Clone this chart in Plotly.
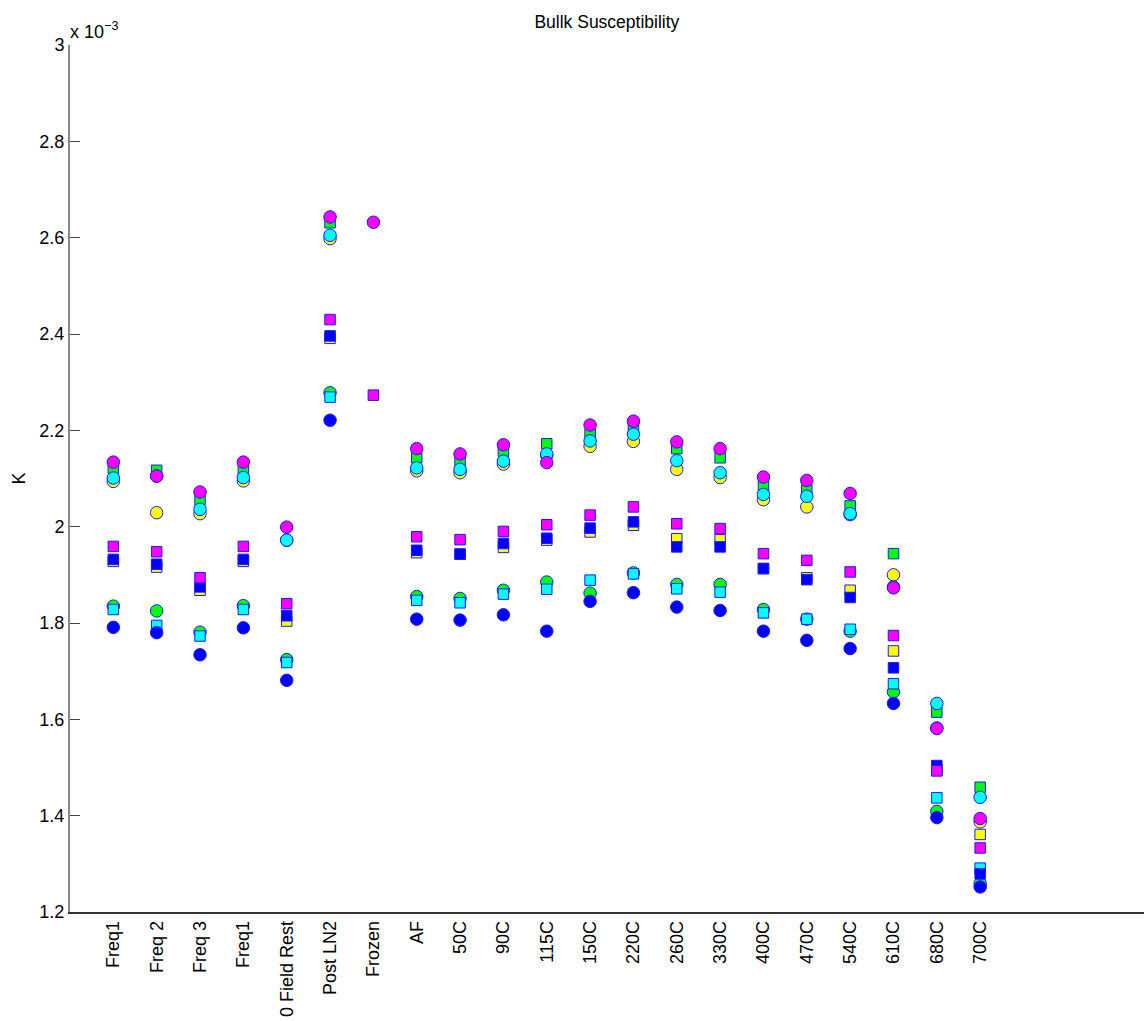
import plotly.graph_objects as go

# Treatment steps along the x axis
categories = ["Freq1", "Freq 2", "Freq 3", "Freq1", "0 Field Rest", "Post LN2", "Frozen",
              "AF", "50C", "90C", "115C", "150C", "220C", "260C", "330C", "400C",
              "470C", "540C", "610C", "680C", "700C"]
positions = list(range(1, len(categories) + 1))

# Bulk susceptibility K, in units of 1e-3 (None = not measured)
yellow_circle = [2.094, 2.029, 2.027, 2.095, 1.972, 2.598, None, 2.116, 2.112, 2.130, 2.148,
                 2.167, 2.177, 2.119, 2.102, 2.056, 2.041, 2.025, 1.900, 1.582, 1.387]
yellow_square = [1.928, 1.916, 1.868, 1.928, 1.804, 2.391, None, 1.946, 1.943, 1.957, 1.972,
                 1.989, 2.003, 1.975, 1.973, 1.913, 1.894, 1.868, 1.742, 1.494, 1.361]
green_circle = [1.835, 1.825, 1.781, 1.836, 1.724, 2.278, None, 1.855, 1.851, 1.868, 1.885,
                1.862, 1.904, 1.880, 1.880, 1.828, 1.808, 1.783, 1.657, 1.409, 1.259]
green_square = [2.121, 2.117, 2.056, 2.119, None, 2.631, None, 2.143, 2.138, 2.157, 2.172,
                2.193, 2.204, 2.162, 2.143, 2.085, 2.076, 2.043, 1.944, 1.615, 1.459]
cyan_square = [1.828, 1.795, 1.773, 1.828, 1.718, 2.269, None, 1.847, 1.842, 1.860, 1.870,
               1.889, 1.902, 1.871, 1.864, 1.821, 1.808, 1.787, 1.674, 1.437, 1.291]
blue_square = [1.932, 1.922, 1.875, 1.932, 1.815, 2.396, None, 1.951, 1.943, 1.965, 1.976,
               1.997, 2.010, 1.958, 1.958, 1.913, 1.890, 1.853, 1.707, 1.504, 1.279]
blue_circle = [1.791, 1.780, 1.734, 1.790, 1.681, 2.221, None, 1.808, 1.806, 1.817, 1.783,
               1.845, 1.863, 1.833, 1.826, 1.783, 1.764, 1.747, 1.633, 1.396, 1.252]
cyan_circle = [2.101, 2.105, 2.036, 2.102, 1.972, 2.605, None, 2.122, 2.119, 2.136, 2.151,
               2.178, 2.192, 2.137, 2.112, 2.067, 2.063, 2.027, 1.875, 1.633, 1.438]
magenta_square = [1.959, 1.948, 1.894, 1.959, 1.840, 2.430, 2.273, 1.979, 1.973, 1.990, 2.004,
                  2.024, 2.041, 2.006, 1.996, 1.944, 1.930, 1.906, 1.774, 1.493, 1.333]
magenta_circle = [2.134, 2.105, 2.072, 2.134, 1.999, 2.643, 2.632, 2.162, 2.151, 2.170, 2.133,
                  2.211, 2.219, 2.176, 2.162, 2.103, 2.096, 2.069, 1.873, 1.581, 1.394]

y_ticks = [1.2, 1.4, 1.6, 1.8, 2.0, 2.2, 2.4, 2.6, 2.8, 3.0]
y_tick_text = ["1.2", "1.4", "1.6", "1.8", "2", "2.2", "2.4", "2.6", "2.8", "3"]

# draw order: later series sit on top of earlier ones
series = [
    (yellow_circle, "#ffff00", "circle"),
    (yellow_square, "#ffff00", "square"),
    (green_circle, "#00ff00", "circle"),
    (green_square, "#00ff00", "square"),
    (cyan_square, "#00ffff", "square"),
    (blue_square, "#0000ff", "square"),
    (blue_circle, "#0000ff", "circle"),
    (cyan_circle, "#00ffff", "circle"),
    (magenta_square, "#ff00ff", "square"),
    (magenta_circle, "#ff00ff", "circle"),
]

FONT = "Liberation Sans, Arial, Helvetica, sans-serif"

fig = go.Figure()
for values, color, symbol in series:
    fig.add_trace(go.Scatter(
        x=positions, y=values, mode="markers",
        marker=dict(symbol=symbol, color=color,
                    size=12.5 if symbol == "circle" else 10.5,
                    line=dict(color="#1a1aff", width=1)),
        showlegend=False, cliponaxis=False,
    ))

fig.update_layout(
    width=1144, height=1021,
    margin=dict(l=70, r=0, t=45, b=109),
    paper_bgcolor="white", plot_bgcolor="white",
    font=dict(family=FONT, size=18, color="black"),
    title=dict(text="Bullk Susceptibility", x=0.5305, xanchor="center",
               y=1 - 22 / 1021, yanchor="middle", yref="container",
               font=dict(family=FONT, size=17.5, color="black")),
    xaxis=dict(range=[0, 24.78], tickmode="array", tickvals=positions,
               ticktext=categories, tickangle=-90, ticks="",
               showline=True, linecolor="#333333", linewidth=1.5,
               showgrid=False, zeroline=False, fixedrange=True),
    yaxis=dict(range=[1.2, 3.0], tickmode="array", tickvals=y_ticks,
               ticktext=y_tick_text, ticks="inside", ticklen=10,
               tickcolor="#444444", tickwidth=1.2,
               showline=True, linecolor="#8a8a8a", linewidth=2,
               showgrid=False, zeroline=False, fixedrange=True),
    annotations=[
        dict(text="K", xref="paper", yref="paper", x=0, y=0.5,
             xanchor="center", yanchor="middle", xshift=-52, textangle=-90,
             showarrow=False, font=dict(family=FONT, size=18)),
        dict(text="x 10<sup>−3</sup>", xref="paper", yref="paper", x=0, y=1,
             xanchor="left", yanchor="bottom", xshift=-2, yshift=1,
             showarrow=False, font=dict(family=FONT, size=18)),
    ],
)

fig.write_html("out.html")
